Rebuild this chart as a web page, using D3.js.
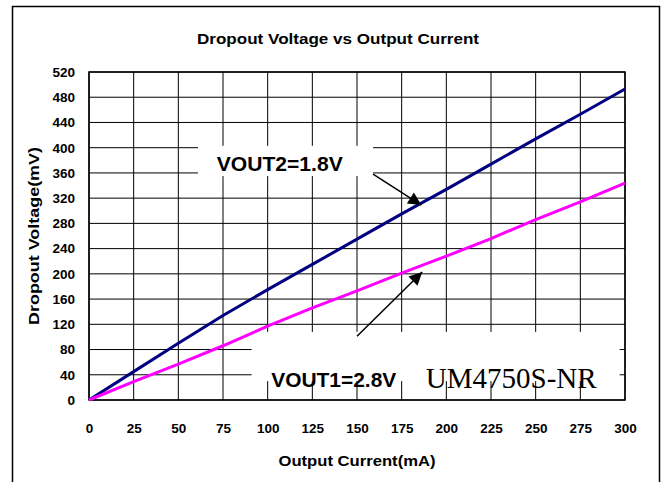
<!DOCTYPE html>
<html>
<head>
<meta charset="utf-8">
<script src="https://cdnjs.cloudflare.com/ajax/libs/d3/7.8.5/d3.min.js"></script>
<style>
  body { margin: 0; background: #fff; }
</style>
</head>
<body>
<div id="chart-area"></div>
<script>
/*
 *  dropout voltage vs output current
 *  two straight-ish lines, one per output
 */

// data (mA, mV)
var currents = [0, 25, 50, 75, 100, 125, 150, 175, 200, 225, 250, 275, 300];
var vout2 = [0, 45, 90, 134, 175, 215, 255, 295, 334, 374, 414, 453, 493];
var vout1 = [0, 29, 57, 86, 117, 146, 173, 201, 228, 256, 286, 314, 344];

var xTicks = [0, 25, 50, 75, 100, 125, 150, 175, 200, 225, 250, 275, 300];
var yTicks = [0, 40, 80, 120, 160, 200, 240, 280, 320, 360, 400, 440, 480, 520];

var seriesNames = ['VOUT2=1.8V', 'VOUT1=2.8V'];
var seriesColors = ['#000080', '#ff00ff'];

var title = 'Dropout Voltage vs Output Current';
var xTitle = 'Output Current(mA)';
var yTitle = 'Dropout Voltage(mV)';
var partName = 'UM4750S-NR';

var W = 668, H = 482;
var sans = 'Arial, "Liberation Sans", sans-serif';

var svg = d3.select('#chart-area').append('svg')
    .attr('width', W)
    .attr('height', H)
    .style('font-family', sans);

// outer frame (bottom edge runs off the picture)
svg.append('rect')
    .attr('x', 12.5)
    .attr('y', 6.5)
    .attr('width', 647)
    .attr('height', 520)
    .attr('fill', 'none')
    .attr('stroke', '#000')
    .attr('stroke-width', 1.5);

var x = d3.scaleLinear()
    .domain([0, 300])
    .range([89, 625]);

var y = d3.scaleLinear()
    .domain([0, 520])
    .range([400, 72]);

// grid
var grid = svg.append('g');
grid.selectAll('.vgrid')
    .data(xTicks)
    .enter()
    .append('line')
        .attr('x1', (d) => { return x(d); })
        .attr('x2', (d) => { return x(d); })
        .attr('y1', y(0))
        .attr('y2', y(520))
        .attr('stroke', '#000')
        .attr('stroke-width', 1);
grid.selectAll('.hgrid')
    .data(yTicks)
    .enter()
    .append('line')
        .attr('x1', x(0))
        .attr('x2', x(300))
        .attr('y1', (d) => { return y(d); })
        .attr('y2', (d) => { return y(d); })
        .attr('stroke', '#000')
        .attr('stroke-width', 1);

// white label boxes sit on the grid
svg.append('rect')
    .attr('x', x(61))
    .attr('y', y(403))
    .attr('width', x(159) - x(61))
    .attr('height', y(355) - y(403))
    .attr('fill', '#fff');

svg.append('rect')
    .attr('x', x(91))
    .attr('y', y(108))
    .attr('width', x(297) - x(91))
    .attr('height', y(30) - y(108))
    .attr('fill', '#fff');

// plot border
svg.append('rect')
    .attr('x', x(0))
    .attr('y', y(520))
    .attr('width', x(300) - x(0))
    .attr('height', y(0) - y(520))
    .attr('fill', 'none')
    .attr('stroke', '#000')
    .attr('stroke-width', 1.5);

// axes: labels only, no tick marks
var xAxis = svg.append('g')
    .attr('transform', 'translate(0,' + y(0) + ')')
    .call(d3.axisBottom(x).tickValues(xTicks).tickSize(0).tickPadding(23));
var yAxis = svg.append('g')
    .attr('transform', 'translate(' + x(0) + ',0)')
    .call(d3.axisLeft(y).tickValues(yTicks).tickSize(0).tickPadding(14));

[xAxis, yAxis].forEach((a) => {
    a.select('.domain').remove();
    a.selectAll('text')
        .style('font-family', sans)
        .attr('font-size', 13.5)
        .attr('font-weight', 'bold')
        .attr('fill', '#000');
});

// the two curves
var line = d3.line()
    .x((d) => { return x(d[0]); })
    .y((d) => { return y(d[1]); });

[vout2, vout1].forEach((vals, i) => {
    svg.append('path')
        .datum(currents.map((c, j) => { return [c, vals[j]]; }))
        .attr('d', line)
        .attr('fill', 'none')
        .attr('stroke', seriesColors[i])
        .attr('stroke-width', 3);
});

// arrows
svg.append('defs').append('marker')
    .attr('id', 'head')
    .attr('viewBox', '0 0 10 10')
    .attr('refX', 10)
    .attr('refY', 5)
    .attr('markerWidth', 16)
    .attr('markerHeight', 13)
    .attr('markerUnits', 'userSpaceOnUse')
    .attr('orient', 'auto')
    .append('path')
        .attr('d', 'M0,0 L10,5 L0,10 Z')
        .attr('fill', '#000');

var arrows = [
    { from: [159, 358], to: [186, 309] },
    { from: [150, 101], to: [186.5, 203] }
];

svg.selectAll('.arrow')
    .data(arrows)
    .enter()
    .append('line')
        .attr('x1', (d) => { return x(d.from[0]); })
        .attr('y1', (d) => { return y(d.from[1]); })
        .attr('x2', (d) => { return x(d.to[0]); })
        .attr('y2', (d) => { return y(d.to[1]); })
        .attr('stroke', '#000')
        .attr('stroke-width', 1.5)
        .attr('marker-end', 'url(#head)');

// annotation texts
svg.append('text')
    .attr('x', x(71.5))
    .attr('y', y(363))
    .attr('font-size', 20)
    .attr('font-weight', 'bold')
    .attr('textLength', 126)
    .attr('lengthAdjust', 'spacingAndGlyphs')
    .text(seriesNames[0]);

svg.append('text')
    .attr('x', x(102))
    .attr('y', y(21))
    .attr('font-size', 20)
    .attr('font-weight', 'bold')
    .attr('textLength', 125)
    .attr('lengthAdjust', 'spacingAndGlyphs')
    .text(seriesNames[1]);

svg.append('text')
    .attr('x', x(188.5))
    .attr('y', y(19.5))
    .style('font-family', '"Times New Roman", "Liberation Serif", serif')
    .attr('font-size', 29)
    .text(partName);

// titles
svg.append('text')
    .attr('x', 338)
    .attr('y', 43.5)
    .attr('text-anchor', 'middle')
    .attr('font-size', 15)
    .attr('font-weight', 'bold')
    .attr('textLength', 282)
    .attr('lengthAdjust', 'spacingAndGlyphs')
    .text(title);

svg.append('text')
    .attr('x', 357)
    .attr('y', 466)
    .attr('text-anchor', 'middle')
    .attr('font-size', 15)
    .attr('font-weight', 'bold')
    .attr('textLength', 157)
    .attr('lengthAdjust', 'spacingAndGlyphs')
    .text(xTitle);

svg.append('text')
    .attr('transform', 'translate(39,236) rotate(-90)')
    .attr('text-anchor', 'middle')
    .attr('font-size', 15)
    .attr('font-weight', 'bold')
    .attr('textLength', 178)
    .attr('lengthAdjust', 'spacingAndGlyphs')
    .text(yTitle);
</script>
</body>
</html>
